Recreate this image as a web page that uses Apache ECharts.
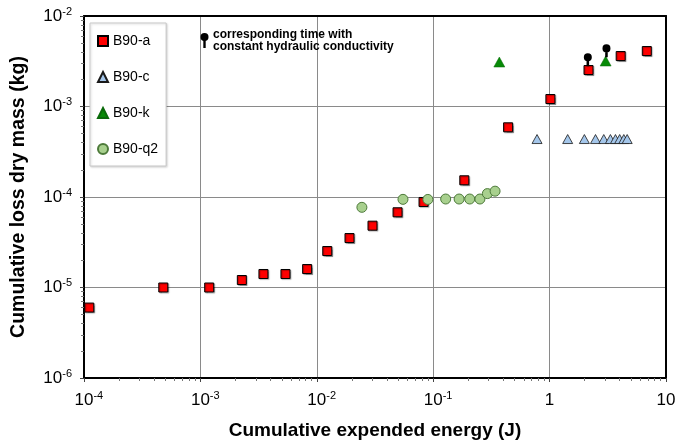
<!DOCTYPE html>
<html><head><meta charset="utf-8">
<script src="https://cdn.jsdelivr.net/npm/echarts@6/dist/echarts.min.js"></script>
<style>html,body{margin:0;padding:0;background:#fff}#c{width:678px;height:443px}</style>
</head><body><div id="c"></div>
<script>
// ---- data (x: cumulative expended energy J, y: cumulative loss dry mass kg)
const seriesNames = ['B90-a', 'B90-c', 'B90-k', 'B90-q2'];
const a_x = [1.11e-4, 4.8e-4, 1.19e-3, 2.27e-3, 3.48e-3, 5.38e-3, 8.26e-3, 0.0123, 0.0191, 0.0301, 0.0494, 0.0826, 0.185, 0.44, 1.016, 2.16, 4.08, 6.84];
const a_y = [6.0e-6, 1.0e-5, 1.0e-5, 1.21e-5, 1.41e-5, 1.41e-5, 1.6e-5, 2.53e-5, 3.52e-5, 4.82e-5, 6.78e-5, 8.81e-5, 1.53e-4, 5.89e-4, 1.21e-3, 2.53e-3, 3.61e-3, 4.1e-3];
const c_x = [0.78, 1.43, 1.99, 2.48, 2.92, 3.33, 3.68, 4.0, 4.34, 4.64];
const c_y = [4.37e-4, 4.37e-4, 4.37e-4, 4.37e-4, 4.37e-4, 4.37e-4, 4.37e-4, 4.37e-4, 4.37e-4, 4.37e-4];
const k_x = [0.37, 3.03];
const k_y = [3.1e-3, 3.18e-3];
const q2_x = [0.0244, 0.055, 0.090, 0.128, 0.167, 0.206, 0.252, 0.292, 0.340];
const q2_y = [7.69e-5, 9.42e-5, 9.4e-5, 9.5e-5, 9.5e-5, 9.5e-5, 9.5e-5, 1.09e-4, 1.16e-4];
const pin_x = [2.13, 3.08];
const pin_y = [3.5e-3, 4.39e-3];
const xMajorTicks = [1e-4, 1e-3, 1e-2, 1e-1, 1, 10];
const yMajorTicks = [1e-6, 1e-5, 1e-4, 1e-3, 1e-2];
const minorMultipliers = [2, 3, 4, 5, 6, 7, 8, 9];
const annotationText = 'corresponding time with\nconstant hydraulic conductivity';
const xTitle = 'Cumulative expended energy (J)';
const yTitle = 'Cumulative loss dry mass (kg)';

function minorTicks(majors) {
  const out = [];
  for (let i = 0; i < majors.length - 1; i++) {
    for (const m of minorMultipliers) out.push(+(majors[i] * m).toPrecision(6));
  }
  return out;
}
const zip = (xs, ys) => xs.map((x, i) => [x, ys[i]]);

const FONT = "'Liberation Sans', Arial, Helvetica, sans-serif";
const PIN = 'path://M0,5 A5,5 0 1,1 10,5 A5,5 0 1,1 0,5 Z M3.4,7 L6.6,7 L6.6,16 L3.4,16 Z';

function expOf(v) { return Math.round(Math.log10(v)); }
function xLabel(v) {
  const e = expOf(v);
  if (e === 0) return '{b|1}';
  if (e === 1) return '{b|10}';
  return '{sp|' + e + '}{b|10}{s|' + e + '}';
}
function yLabel(v) {
  const e = expOf(v);
  return '{b|10}{s|' + e + '}';
}
const richX = {
  b: { fontSize: 17, fontFamily: FONT, color: '#000', lineHeight: 20 },
  s: { fontSize: 11, fontFamily: FONT, color: '#000', verticalAlign: 'top', lineHeight: 20 },
  sp: { fontSize: 11, fontFamily: FONT, color: 'rgba(0,0,0,0)', lineHeight: 20 }
};
const richY = {
  b: { fontSize: 17, fontFamily: FONT, color: '#000', lineHeight: 20 },
  s: { fontSize: 11, fontFamily: FONT, color: '#000', verticalAlign: 'top', lineHeight: 20 }
};

const chart = echarts.init(document.getElementById('c'), null, { renderer: 'canvas' });
const hiddenAxisBits = { axisLabel: { show: false }, splitLine: { show: false } };

chart.setOption({
  animation: false,
  backgroundColor: '#fff',
  grid: { left: 84, right: 12, top: 16, bottom: 65, containLabel: false, outerBoundsMode: 'none' },
  xAxis: [
    {
      type: 'log', logBase: 10, min: 1e-4, max: 10, position: 'bottom',
      name: xTitle, nameLocation: 'middle', nameGap: 43,
      nameTextStyle: { fontSize: 19, fontWeight: 'bold', fontFamily: FONT, color: '#000' },
      axisLine: { show: true, lineStyle: { color: '#000', width: 2 } },
      axisTick: { show: true, inside: false, length: 4, customValues: xMajorTicks, lineStyle: { color: '#444', width: 1 } },
      axisLabel: { margin: 12, customValues: xMajorTicks, formatter: xLabel, rich: richX },
      splitLine: { show: true, lineStyle: { color: '#8a8a8a', width: 1 } }
    },
    {
      type: 'log', logBase: 10, min: 1e-4, max: 10, position: 'bottom', offset: 0,
      axisLine: { show: false },
      axisTick: { show: true, inside: false, length: 3, customValues: minorTicks(xMajorTicks), lineStyle: { color: '#777', width: 1 } },
      ...hiddenAxisBits
    },
    {
      type: 'log', logBase: 10, min: 1e-4, max: 10, position: 'top',
      axisLine: { show: true, lineStyle: { color: '#000', width: 2 } },
      axisTick: { show: false },
      ...hiddenAxisBits
    }
  ],
  yAxis: [
    {
      type: 'log', logBase: 10, min: 1e-6, max: 1e-2, position: 'left',
      name: yTitle, nameLocation: 'middle', nameGap: 55, nameRotate: 90,
      nameTextStyle: { fontSize: 19.5, fontWeight: 'bold', fontFamily: FONT, color: '#000' },
      axisLine: { show: true, lineStyle: { color: '#000', width: 2 } },
      axisTick: { show: true, inside: false, length: 4, customValues: yMajorTicks, lineStyle: { color: '#444', width: 1 } },
      axisLabel: { margin: 12, customValues: yMajorTicks, formatter: yLabel, rich: richY },
      splitLine: { show: true, lineStyle: { color: '#8a8a8a', width: 1 } }
    },
    {
      type: 'log', logBase: 10, min: 1e-6, max: 1e-2, position: 'left', offset: 0,
      axisLine: { show: false },
      axisTick: { show: true, inside: false, length: 3, customValues: minorTicks(yMajorTicks), lineStyle: { color: '#777', width: 1 } },
      ...hiddenAxisBits
    },
    {
      type: 'log', logBase: 10, min: 1e-6, max: 1e-2, position: 'right',
      axisLine: { show: true, lineStyle: { color: '#000', width: 2 } },
      axisTick: { show: false },
      ...hiddenAxisBits
    }
  ],
  legend: {
    data: seriesNames, orient: 'vertical', left: 90, top: 23,
    padding: [11, 8, 10, 7], itemWidth: 10, itemHeight: 10, itemGap: 22,
    borderColor: '#c8c8c8', borderWidth: 1, backgroundColor: '#fff',
    shadowColor: 'rgba(0,0,0,0.15)', shadowBlur: 2, shadowOffsetX: 1, shadowOffsetY: 1,
    textStyle: { fontSize: 14, fontFamily: FONT, color: '#000' },
    selectedMode: false
  },
  graphic: [
    { type: 'circle', shape: { cx: 204.5, cy: 37, r: 4 }, style: { fill: '#000' }, z: 10 },
    { type: 'rect', shape: { x: 203.3, y: 37, width: 2.4, height: 11 }, style: { fill: '#000' }, z: 10 },
    { type: 'text', left: 213, top: 29, z: 10,
      style: { text: annotationText, fontSize: 12, fontWeight: 'bold', fontFamily: FONT, fill: '#000', lineHeight: 12 } }
  ],
  series: [
    { name: 'B90-a', type: 'scatter', xAxisIndex: 0, yAxisIndex: 0, data: zip(a_x, a_y),
      symbol: 'rect', symbolSize: 9,
      itemStyle: { color: '#ff0000', opacity: 1, borderColor: '#000', borderWidth: 1, shadowColor: 'rgba(0,0,0,0.3)', shadowBlur: 1, shadowOffsetX: 1, shadowOffsetY: 1 } },
    { name: 'B90-c', type: 'scatter', xAxisIndex: 0, yAxisIndex: 0, data: zip(c_x, c_y),
      symbol: 'triangle', symbolSize: [10, 9],
      itemStyle: { color: '#a4c6ea', opacity: 1, borderColor: '#1a1a1a', borderWidth: 0.8 } },
    { name: 'B90-k', type: 'scatter', xAxisIndex: 0, yAxisIndex: 0, data: zip(k_x, k_y),
      symbol: 'triangle', symbolSize: [11, 10],
      itemStyle: { color: '#078a07', opacity: 1, borderColor: '#0a6a0a', borderWidth: 0.5 } },
    { name: 'B90-q2', type: 'scatter', xAxisIndex: 0, yAxisIndex: 0, data: zip(q2_x, q2_y),
      symbol: 'circle', symbolSize: 10,
      itemStyle: { color: '#a8d08e', opacity: 1, borderColor: '#4d7a3a', borderWidth: 1 } },
    { name: 'pins', type: 'scatter', xAxisIndex: 0, yAxisIndex: 0, data: zip(pin_x, pin_y),
      symbol: PIN, symbolSize: [8, 13], symbolKeepAspect: false, symbolOffset: [0, 2.5],
      itemStyle: { color: '#000', opacity: 1 }, z: 5 }
  ]
});
</script>
</body></html>
